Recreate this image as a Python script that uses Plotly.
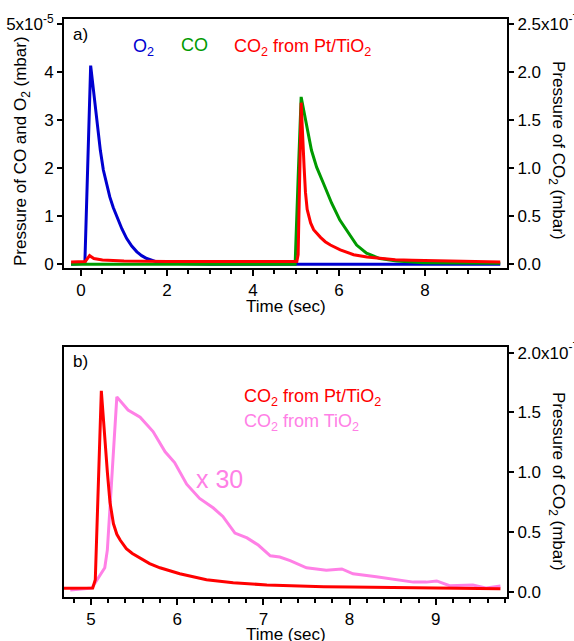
import plotly.graph_objects as go

W, H = 574, 641

# ---------------- data ----------------
# Panel a) time axis in seconds; O2 and CO in units of 1e-5 mbar, CO2 in units of 1e-7 mbar
o2_time = [-0.23, 0.09, 0.225, 0.45, 0.52, 0.60, 0.67, 0.75, 0.83, 0.95, 1.06, 1.18, 1.30, 1.41, 1.53, 1.65, 1.76, 2.0, 3.0, 9.75]
o2_vals = [0.0, 0.02, 4.13, 2.37, 1.96, 1.66, 1.40, 1.18, 0.99, 0.74, 0.54, 0.38, 0.26, 0.18, 0.12, 0.08, 0.05, 0.02, 0.0, 0.0]

co_time = [-0.23, 4.98, 5.05, 5.12, 5.36, 5.48, 5.64, 5.83, 6.02, 6.22, 6.41, 6.64, 6.95, 7.34, 7.96, 9.75]
co_vals = [0.0, 0.0, 1.8, 3.48, 2.37, 2.02, 1.68, 1.27, 0.92, 0.64, 0.40, 0.23, 0.12, 0.07, 0.03, 0.02]

co2_pt_time = [-0.23, 0.10, 0.20, 0.30, 0.50, 1.0, 2.0, 4.0, 4.76, 5.02, 5.05, 5.12, 5.19, 5.22, 5.26, 5.30,
               5.34, 5.41, 5.48, 5.57, 5.68, 5.80, 6.03, 6.34, 6.65, 7.04, 7.31, 7.70, 8.0, 8.5, 9.0, 9.4, 9.75]
co2_pt_vals = [0.025, 0.03, 0.09, 0.06, 0.045, 0.035, 0.03, 0.028, 0.028, 0.03, 0.10, 1.68, 1.00, 0.75, 0.57, 0.48,
               0.43, 0.36, 0.32, 0.28, 0.235, 0.20, 0.15, 0.10, 0.075, 0.056, 0.048, 0.042, 0.04, 0.035, 0.03, 0.028, 0.025]

# Panel b) CO2 from TiO2 (multiplied by 30), units of 1e-7 mbar
co2_ti_time = [4.76, 5.01, 5.16, 5.19, 5.30, 5.43, 5.57, 5.72, 5.86, 5.97, 6.11, 6.26, 6.42, 6.53, 6.67, 6.81,
               6.94, 7.08, 7.19, 7.31, 7.50, 7.73, 7.91, 8.04, 8.31, 8.58, 8.74, 8.89, 9.01, 9.16, 9.43, 9.59, 9.75]
co2_ti_vals = [0.015, 0.03, 0.20, 0.35, 1.63, 1.52, 1.46, 1.34, 1.17, 1.08, 0.90, 0.78, 0.70, 0.63, 0.49, 0.45,
               0.39, 0.30, 0.29, 0.26, 0.20, 0.18, 0.19, 0.15, 0.125, 0.10, 0.08, 0.08, 0.09, 0.05, 0.055, 0.03, 0.048]

# tick labels
a_left_ticks = [0, 1, 2, 3, 4, 5]
a_left_text = ["0", "1", "2", "3", "4", "5x10<sup>-5</sup>"]
a_right_ticks = [0.0, 0.5, 1.0, 1.5, 2.0, 2.5]
a_right_text = ["0.0", "0.5", "1.0", "1.5", "2.0", "2.5x10<sup>-7</sup>"]
b_right_ticks = [0.0, 0.5, 1.0, 1.5, 2.0]
b_right_text = ["0.0", "0.5", "1.0", "1.5", "2.0x10<sup>-7</sup>"]

BLUE = "#0000d0"
GREEN = "#009a00"
RED = "#ff0000"
PINK = "#ff80e6"
FONT = "Liberation Sans, Arial, Helvetica, sans-serif"


def px(x):
    return x / W


def py(y):
    return 1 - y / H


fig = go.Figure()
fig.add_trace(go.Scatter(x=o2_time, y=o2_vals, mode="lines", line=dict(color=BLUE, width=3),
                         xaxis="x", yaxis="y", name="O2"))
fig.add_trace(go.Scatter(x=co_time, y=co_vals, mode="lines", line=dict(color=GREEN, width=3),
                         xaxis="x", yaxis="y", name="CO"))
fig.add_trace(go.Scatter(x=co2_pt_time, y=co2_pt_vals, mode="lines", line=dict(color=RED, width=3),
                         xaxis="x", yaxis="y2", name="CO2 Pt/TiO2"))
fig.add_trace(go.Scatter(x=co2_ti_time, y=co2_ti_vals, mode="lines", line=dict(color=PINK, width=3),
                         xaxis="x2", yaxis="y3", name="CO2 TiO2"))
fig.add_trace(go.Scatter(x=co2_pt_time, y=co2_pt_vals, mode="lines", line=dict(color=RED, width=3),
                         xaxis="x2", yaxis="y3", name="CO2 Pt/TiO2 b"))

axis_common = dict(showgrid=False, zeroline=False, showline=True, linecolor="black", linewidth=2,
                   ticks="outside", tickcolor="black", tickwidth=1.5, automargin=False,
                   tickfont=dict(family=FONT, size=17, color="black"))

dom_x = [px(64), px(507)]
dom_a = [py(268), py(19)]
dom_b = [py(596.7), py(346.7)]

# panel a scale: left 48.06 px/unit, 0 at y=264.3
a_left_range = [-0.077, 5.1]
a_right_range = [a_left_range[0] / 2, a_left_range[1] / 2]

fig.update_layout(
    width=W, height=H, autosize=False,
    margin=dict(l=0, r=0, t=0, b=0, autoexpand=False),
    paper_bgcolor="white", plot_bgcolor="white",
    showlegend=False,
    font=dict(family=FONT, size=17, color="black"),
    xaxis=dict(axis_common, domain=dom_x, anchor="y", range=[-0.395, 9.907],
               tickvals=[0, 2, 4, 6, 8], ticklen=6, mirror=True,
               minor=dict(dtick=0.5, tick0=0, ticks="outside", ticklen=4, tickcolor="black", tickwidth=1.5)),
    yaxis=dict(axis_common, domain=dom_a, anchor="x", range=a_left_range,
               tickvals=a_left_ticks, ticktext=a_left_text, ticklen=5),
    yaxis2=dict(axis_common, overlaying="y", side="right", anchor="x", range=a_right_range,
                tickvals=a_right_ticks, ticktext=a_right_text, ticklen=5, ticklabelstandoff=0),
    xaxis2=dict(axis_common, domain=dom_x, anchor="y3", range=[4.687, 9.826],
                tickvals=[5, 6, 7, 8, 9], ticklen=6, mirror=True,
                minor=dict(dtick=0.2, tick0=5, ticks="outside", ticklen=4, tickcolor="black", tickwidth=1.5)),
    yaxis3=dict(axis_common, domain=dom_b, anchor="x2", side="right", range=[-0.042, 2.05],
                tickvals=b_right_ticks, ticktext=b_right_text, ticklen=5, mirror=True, ticklabelstandoff=0),
)

ann = []


def add_text(text, x, y, size=17, color="black", xanchor="left", yanchor="middle", angle=0):
    ann.append(dict(text=text, x=px(x), y=py(y), xref="paper", yref="paper", showarrow=False,
                    xanchor=xanchor, yanchor=yanchor, textangle=angle,
                    font=dict(family=FONT, size=size, color=color)))


add_text("a)", 71, 34, size=17)
add_text("b)", 71, 361, size=17)
add_text("O<sub>2</sub>", 131, 47, size=18, color=BLUE)
add_text("CO", 179, 45, size=18, color=GREEN)
add_text("CO<sub>2</sub> from Pt/TiO<sub>2</sub>", 232, 47, size=18, color=RED)
add_text("CO<sub>2</sub> from Pt/TiO<sub>2</sub>", 242, 397, size=18, color=RED)
add_text("CO<sub>2</sub> from TiO<sub>2</sub>", 242, 422, size=18, color=PINK)
add_text("x 30", 194, 479, size=25, color=PINK)
add_text("Time (sec)", 286, 306, size=17, xanchor="center")
add_text("Time (sec)", 286, 634, size=17, xanchor="center")
add_text("Pressure of CO and O<sub>2</sub> (mbar)", 22, 151, size=17, xanchor="center", angle=-90)
add_text("Pressure of CO<sub>2</sub> (mbar)", 557, 150, size=17, xanchor="center", angle=90)
add_text("Pressure of CO<sub>2</sub> (mbar)", 557, 481, size=17, xanchor="center", angle=90)

fig.update_layout(annotations=ann)
fig.write_html("out.html",
               config={"displayModeBar": False},
               post_script="document.body.style.margin='0';document.body.style.padding='0';"
                           "document.body.style.overflow='hidden';")
